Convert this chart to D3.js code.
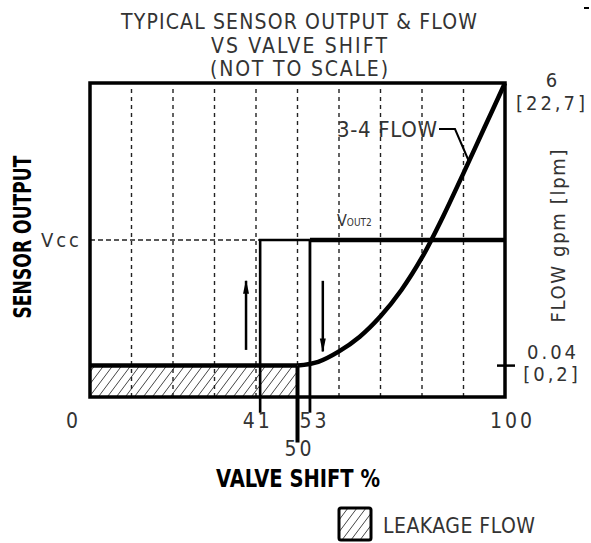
<!DOCTYPE html>
<html>
<head>
<meta charset="utf-8">
<script src="https://cdn.jsdelivr.net/npm/d3@7/dist/d3.min.js"></script>
<style>
body { margin: 0; background: #fff; }
text { font-family: "Liberation Sans Narrow", "DejaVu Sans Condensed", sans-serif; fill: #333; }
text.bold { font-family: "DejaVu Sans Condensed", sans-serif; font-weight: bold; fill: #000; }
</style>
</head>
<body>
<div id="chart"></div>
<script>
// chart data
var titleLines = ["TYPICAL SENSOR OUTPUT & FLOW", "VS VALVE SHIFT", "(NOT TO SCALE)"];
var titleWidths = [356, 176, 178];
var gridShift = [10, 20, 30, 40, 50, 60, 70, 80, 90];
var shiftTicks = [0, 41, 53, 100];
var markShift = 50;
var flowShift = [50, 55, 60, 65, 70, 75, 80, 85, 90, 95, 100];
var flowGpm = [0.04, 0.12, 0.34, 0.65, 1.08, 1.63, 2.32, 3.17, 4.10, 5.05, 6.0];
var flowTicks = [6, 0.04];
var flowLabels = [["6", "[22,7]"], ["0.04", "[0,2]"]];
var levelVcc = 1;
var levelLeak = 0.2;
var leakShift = [0, 50];
var risingPath = [[41, -0.1], [41, 1], [53, 1]];
var fallingPath = [[100, 1], [53, 1], [53, -0.1]];
var markPath = [[50, 0.2], [50, -0.29]];

var width = 591, height = 543;

var x = d3.scaleLinear().domain([0, 100]).range([90, 505]);
var y = d3.scaleLinear().domain([0, 2]).range([397, 83]);
var yFlow = d3.scaleLinear().domain([0.04, 6]).range([y(levelLeak), y(2)]);

var svg = d3.select("#chart").append("svg")
	.attr("width", width)
	.attr("height", height);

var defs = svg.append("defs");
defs.append("pattern")
	.attr("id", "hatch")
	.attr("patternUnits", "userSpaceOnUse")
	.attr("width", 9)
	.attr("height", 12)
	.append("path")
	.attr("d", "M0,12 L9,0 M-3,4 L0,0 M9,12 L12,8")
	.attr("stroke", "#444")
	.attr("stroke-width", 1);

defs.append("marker")
	.attr("id", "head")
	.attr("viewBox", "0 0 14 10")
	.attr("refX", 13)
	.attr("refY", 5)
	.attr("markerWidth", 14)
	.attr("markerHeight", 10)
	.attr("markerUnits", "userSpaceOnUse")
	.attr("orient", "auto")
	.append("path")
	.attr("d", "M0,2 L14,5 L0,8 Z")
	.attr("fill", "#000");

// title
svg.selectAll("text.title")
	.data(titleLines)
	.enter().append("text")
	.attr("class", "title")
	.attr("x", 299)
	.attr("y", function(d, i) { return 29 + i * 23.5; })
	.attr("text-anchor", "middle")
	.attr("font-size", 21)
	.attr("textLength", function(d, i) { return titleWidths[i]; })
	.attr("lengthAdjust", "spacing")
	.text(function(d) { return d; });

// leakage hatch
svg.append("rect")
	.attr("x", x(leakShift[0]))
	.attr("y", y(levelLeak))
	.attr("width", x(leakShift[1]) - x(leakShift[0]))
	.attr("height", y(0) - y(levelLeak))
	.attr("fill", "url(#hatch)");

// dotted grid
svg.selectAll("line.grid")
	.data(gridShift)
	.enter().append("line")
	.attr("class", "grid")
	.attr("x1", function(d) { return x(d); })
	.attr("x2", function(d) { return x(d); })
	.attr("y1", y(2) + 6)
	.attr("y2", y(0))
	.attr("stroke", "#222")
	.attr("stroke-width", 1.4)
	.attr("stroke-dasharray", "4,4");

// Vcc dashed
svg.append("line")
	.attr("x1", x(0))
	.attr("x2", x(41))
	.attr("y1", y(levelVcc))
	.attr("y2", y(levelVcc))
	.attr("stroke", "#222")
	.attr("stroke-width", 1.3)
	.attr("stroke-dasharray", "5,3");

// frame
svg.append("rect")
	.attr("x", x(0))
	.attr("y", y(2))
	.attr("width", x(100) - x(0))
	.attr("height", y(0) - y(2))
	.attr("fill", "none")
	.attr("stroke", "#000")
	.attr("stroke-width", 3.5);

var line = d3.line()
	.x(function(d) { return x(d[0]); })
	.y(function(d) { return y(d[1]); });

// leakage level
svg.append("path")
	.attr("d", line(leakShift.map(function(s) { return [s, levelLeak]; })))
	.attr("fill", "none")
	.attr("stroke", "#000")
	.attr("stroke-width", 4.5);

// sensor output hysteresis
svg.append("path")
	.attr("d", line(risingPath))
	.attr("fill", "none")
	.attr("stroke", "#000")
	.attr("stroke-width", 2.6);

svg.append("path")
	.attr("d", line(fallingPath.slice(0, 2)))
	.attr("fill", "none")
	.attr("stroke", "#000")
	.attr("stroke-width", 4.5);

svg.append("path")
	.attr("d", line(fallingPath.slice(1)))
	.attr("fill", "none")
	.attr("stroke", "#000")
	.attr("stroke-width", 2.8);

svg.append("path")
	.attr("d", line(markPath))
	.attr("fill", "none")
	.attr("stroke", "#000")
	.attr("stroke-width", 4);

// flow curve
var flowLine = d3.line()
	.x(function(d) { return x(d[0]); })
	.y(function(d) { return yFlow(d[1]); })
	.curve(d3.curveCatmullRom);

svg.append("path")
	.attr("d", flowLine(flowShift.map(function(s, i) { return [s, flowGpm[i]]; })))
	.attr("fill", "none")
	.attr("stroke", "#000")
	.attr("stroke-width", 4.5);

// direction arrows
svg.append("line")
	.attr("x1", x(37.6)).attr("x2", x(37.6))
	.attr("y1", y(0.3)).attr("y2", y(0.74))
	.attr("stroke", "#000").attr("stroke-width", 2.5)
	.attr("marker-end", "url(#head)");
svg.append("line")
	.attr("x1", x(56.1)).attr("x2", x(56.1))
	.attr("y1", y(0.74)).attr("y2", y(0.29))
	.attr("stroke", "#000").attr("stroke-width", 2.5)
	.attr("marker-end", "url(#head)");

// bottom axis
var xAxis = d3.axisBottom(x)
	.tickValues(shiftTicks)
	.tickSize(0)
	.tickPadding(16)
	.tickFormat(d3.format("d"));
var gx = svg.append("g")
	.attr("transform", "translate(0," + y(0) + ")")
	.call(xAxis);
gx.select(".domain").remove();
gx.selectAll("text")
	.attr("font-size", 21)
	.attr("font-family", null)
	.attr("fill", null)
	.attr("dy", "0.71em")
	.attr("dx", function(d) { return d == 0 ? -17 : (d == 41 ? -3 : (d == 53 ? 4 : 7)); })
	.attr("letter-spacing", 3);

svg.append("text")
	.attr("x", x(markShift) + 2)
	.attr("y", 456)
	.attr("text-anchor", "middle")
	.attr("font-size", 21)
	.attr("letter-spacing", 3)
	.text(markShift);

svg.append("text")
	.attr("class", "bold")
	.attr("x", 298)
	.attr("y", 487)
	.attr("text-anchor", "middle")
	.attr("font-size", 24)
	.attr("textLength", 164)
	.attr("lengthAdjust", "spacingAndGlyphs")
	.text("VALVE SHIFT %");

// left axis
var yAxis = d3.axisLeft(y)
	.tickValues([levelVcc])
	.tickSize(0)
	.tickPadding(8)
	.tickFormat(function() { return "Vcc"; });
var gy = svg.append("g")
	.attr("transform", "translate(" + x(0) + ",0)")
	.call(yAxis);
gy.select(".domain").remove();
gy.selectAll("text")
	.attr("font-size", 20)
	.attr("font-family", null)
	.attr("fill", null)
	.attr("letter-spacing", 3);

svg.append("text")
	.attr("class", "bold")
	.attr("transform", "translate(31,237) rotate(-90)")
	.attr("text-anchor", "middle")
	.attr("font-size", 24)
	.attr("textLength", 163)
	.attr("lengthAdjust", "spacingAndGlyphs")
	.text("SENSOR OUTPUT");

// right flow labels
flowTicks.forEach(function(v, i) {
	var t = svg.append("text")
		.attr("x", 553)
		.attr("y", yFlow(v) + (i == 0 ? 4 : -7))
		.attr("text-anchor", "middle")
		.attr("font-size", 20)
		.attr("letter-spacing", 3);
	t.append("tspan").attr("x", 553).text(flowLabels[i][0]);
	t.append("tspan").attr("x", 552).attr("dy", 22.5).text(flowLabels[i][1]);
});
svg.append("line")
	.attr("x1", x(100) - 8)
	.attr("x2", x(100) + 10)
	.attr("y1", yFlow(0.04))
	.attr("y2", yFlow(0.04))
	.attr("stroke", "#000")
	.attr("stroke-width", 2.5);

svg.append("text")
	.attr("transform", "translate(565,236) rotate(-90)")
	.attr("text-anchor", "middle")
	.attr("font-size", 20)
	.attr("textLength", 173)
	.attr("lengthAdjust", "spacing")
	.text("FLOW gpm [lpm]");

// annotations
svg.append("text")
	.attr("x", 337)
	.attr("y", 137)
	.attr("font-size", 22)
	.attr("textLength", 100)
	.attr("lengthAdjust", "spacing")
	.text("3-4 FLOW");
svg.append("path")
	.attr("d", "M439,129 L455,129 L" + x(91.3) + "," + yFlow(4.35))
	.attr("fill", "none")
	.attr("stroke", "#000")
	.attr("stroke-width", 2);

var vout = svg.append("text")
	.attr("x", 337)
	.attr("y", 226)
	.attr("font-size", 16);
vout.append("tspan").text("V");
vout.append("tspan").attr("font-size", 10).text("OUT2");

// corner mark
svg.append("line")
	.attr("x1", 584).attr("x2", 589)
	.attr("y1", 8).attr("y2", 8)
	.attr("stroke", "#000").attr("stroke-width", 2);

// legend
svg.append("rect")
	.attr("x", 339)
	.attr("y", 508)
	.attr("width", 32)
	.attr("height", 32)
	.attr("rx", 2)
	.attr("fill", "url(#hatch)")
	.attr("stroke", "#000")
	.attr("stroke-width", 3);
svg.append("text")
	.attr("x", 383)
	.attr("y", 533)
	.attr("font-size", 21)
	.attr("textLength", 152)
	.attr("lengthAdjust", "spacing")
	.text("LEAKAGE FLOW");
</script>
</body>
</html>
